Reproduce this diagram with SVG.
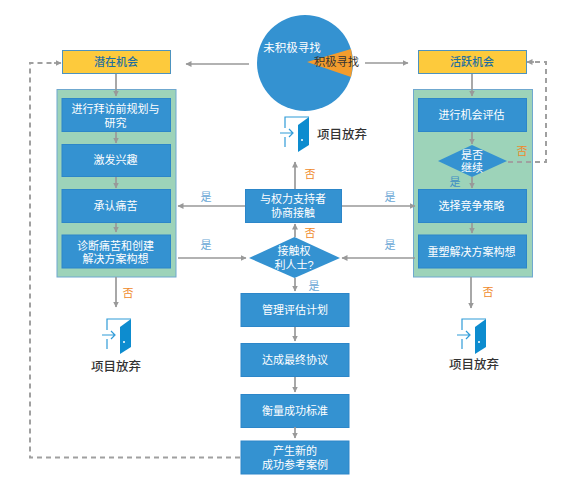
<svg xmlns="http://www.w3.org/2000/svg" width="569" height="492" viewBox="0 0 569 492">
<style>
text{font-family:"Liberation Sans","Noto Sans CJK SC",sans-serif;text-anchor:middle}
.b{fill:#3492d1;stroke:#2c86c9;stroke-width:1}
.y{fill:#fdca3c;stroke:#4d93bf;stroke-width:1}
.g{fill:#9dd3b9;stroke:#6fa8cf;stroke-width:1}
.w{fill:#fff;font-size:11px}
.t{fill:#1f6f9f;font-size:11px;font-weight:500}
.bk{fill:#333;font-size:12.500px;font-weight:500}
.no{fill:#ef8a2b;font-size:11px}
.yes{fill:#6aa8d6;font-size:11px}
.d{fill:none;stroke:#a0a0a0;stroke-width:2;stroke-dasharray:5 4}
.a{fill:none;stroke:#999;stroke-width:1.700;marker-end:url(#m)}
</style>
<defs>
<marker id="m" markerWidth="7" markerHeight="7" refX="5.500" refY="3" orient="auto" markerUnits="userSpaceOnUse"><path d="M0,0L6,3L0,6Z" fill="#999"/></marker>
<g id="door"><path d="M-12,-6V-17H12" fill="none" stroke="#2f9bd8" stroke-width="1.200"/><path d="M-12,3V13" fill="none" stroke="#2f9bd8" stroke-width="1.200"/><path d="M1,-9L12,-17V11L1,18Z" fill="#0d8ccf"/><circle cx="5" cy="6" r="1" fill="#fff"/><path d="M-17,-1H-5M-8,-5L-4,-1L-8,3" fill="none" stroke="#2f9bd8" stroke-width="1.200"/></g>
</defs>
<g id="pie"><circle cx="305" cy="63" r="48" fill="#3492d1"/><path d="M307,62L351,49Q354,63 351,77Z" fill="#f39c2d"/><text class="w" x="292" y="52" style="font-size:11.500px">未积极寻找</text><text x="336.500" y="66" fill="#333" style="font-size:11.300px">积极寻找</text></g>
<g id="n-potential"><rect class="y" x="62.500" y="50.500" width="108" height="23"/><text class="t" x="116" y="66">潜在机会</text></g>
<g id="n-active"><rect class="y" x="418.500" y="50.500" width="108" height="23"/><text class="t" x="472" y="66">活跃机会</text></g>
<g id="left-panel"><rect class="g" x="57" y="89.500" width="119" height="187.500"/></g>
<g id="right-panel"><rect class="g" x="413.500" y="89.500" width="119" height="187.500"/></g>
<g id="n-l1"><rect class="b" x="62" y="98.500" width="108.500" height="33"/><text class="w" x="115.500" y="112.500">进行拜访前规划与<tspan x="115.500" dy="14">研究</tspan></text></g>
<g id="n-l2"><rect class="b" x="62" y="144.500" width="108.500" height="32"/><text class="w" x="115.500" y="164">激发兴趣</text></g>
<g id="n-l3"><rect class="b" x="62" y="189.500" width="108.500" height="33"/><text class="w" x="115.500" y="210">承认痛苦</text></g>
<g id="n-l4"><rect class="b" x="62" y="235" width="108.500" height="33"/><text class="w" x="115.500" y="250">诊断痛苦和创建<tspan x="115.500" dy="13">解决方案构想</tspan></text></g>
<g id="n-r1"><rect class="b" x="418.500" y="98.500" width="108" height="33"/><text class="w" x="471.500" y="119">进行机会评估</text></g>
<g id="n-r2"><path d="M472,145L507,161L472,177L438,161Z" fill="#3492d1"/><text class="w" x="472" y="159">是否<tspan x="472" dy="12.500">继续</tspan></text></g>
<g id="n-r3"><rect class="b" x="418.500" y="189.500" width="108" height="33"/><text class="w" x="471.500" y="210">选择竞争策略</text></g>
<g id="n-r4"><rect class="b" x="418.500" y="235" width="108" height="33"/><text class="w" x="471.500" y="256">重塑解决方案构想</text></g>
<g id="n-c1"><rect class="b" x="245.500" y="189.500" width="96" height="33"/><text class="w" x="293" y="203">与权力支持者<tspan x="293" dy="14">协商接触</tspan></text></g>
<g id="n-c2"><path d="M294.500,237L340,258L294.500,278L249,258Z" fill="#3492d1"/><text class="w" x="294" y="255">接触权<tspan x="294" dy="14">利人士?</tspan></text></g>
<g id="n-c3"><rect class="b" x="241" y="293.500" width="108" height="33"/><text class="w" x="295" y="314">管理评估计划</text></g>
<g id="n-c4"><rect class="b" x="241" y="343.500" width="108" height="33"/><text class="w" x="295" y="364">达成最终协议</text></g>
<g id="n-c5"><rect class="b" x="241" y="394.500" width="108" height="33"/><text class="w" x="295" y="415">衡量成功标准</text></g>
<g id="n-c6"><rect class="b" x="241" y="441" width="108" height="33"/><text class="w" x="295" y="455">产生新的<tspan x="295" dy="14">成功参考案例</tspan></text></g>
<g id="connectors">
<path class="a" d="M116,74V96"/><path class="a" d="M116,132V143"/><path class="a" d="M116,177V188"/><path class="a" d="M116,223V232"/>
<path class="a" d="M116,277V307"/>
<path class="a" d="M249,64H186"/><path class="a" d="M365,63H408"/>
<path class="a" d="M472,74V96"/><path class="a" d="M472,132V144"/><path class="a" d="M472,177V188"/><path class="a" d="M472,223V233"/>
<path class="a" d="M471,277V308"/>
<path class="a" d="M245,206H178"/><path class="a" d="M342,206H415"/>
<path class="a" d="M178,258H246"/><path class="a" d="M415,258H342"/>
<path class="a" d="M295,189V162"/><path class="a" d="M295,237V224"/>
<path class="a" d="M295,278V291"/><path class="a" d="M295,327V341"/><path class="a" d="M295,377V392"/><path class="a" d="M295,427V438"/>
<path class="d" d="M240,457.500H30V63H54"/><path class="a" d="M54,63H61"/>
<path class="d" d="M508,162H546V62H534"/><path class="a" d="M534,62H527"/>
</g>
<g id="exit-top"><use href="#door" x="297" y="134"/><text class="bk" x="342" y="138.500">项目放弃</text></g>
<g id="exit-left"><use href="#door" x="119" y="336"/><text class="bk" x="116" y="370.500">项目放弃</text></g>
<g id="exit-right"><use href="#door" x="474" y="336"/><text class="bk" x="474" y="368.500">项目放弃</text></g>
<g id="labels">
<text class="yes" x="206" y="201">是</text><text class="yes" x="206" y="249">是</text><text class="yes" x="390" y="201">是</text><text class="yes" x="390" y="249">是</text><text class="yes" x="455" y="186" style="fill:#3f8fc4">是</text><text class="yes" x="314" y="290">是</text>
<text class="no" x="128" y="297">否</text><text class="no" x="488" y="296">否</text><text class="no" x="522" y="155">否</text><text class="no" x="310" y="178">否</text><text class="no" x="310" y="237">否</text>
</g>
</svg>
